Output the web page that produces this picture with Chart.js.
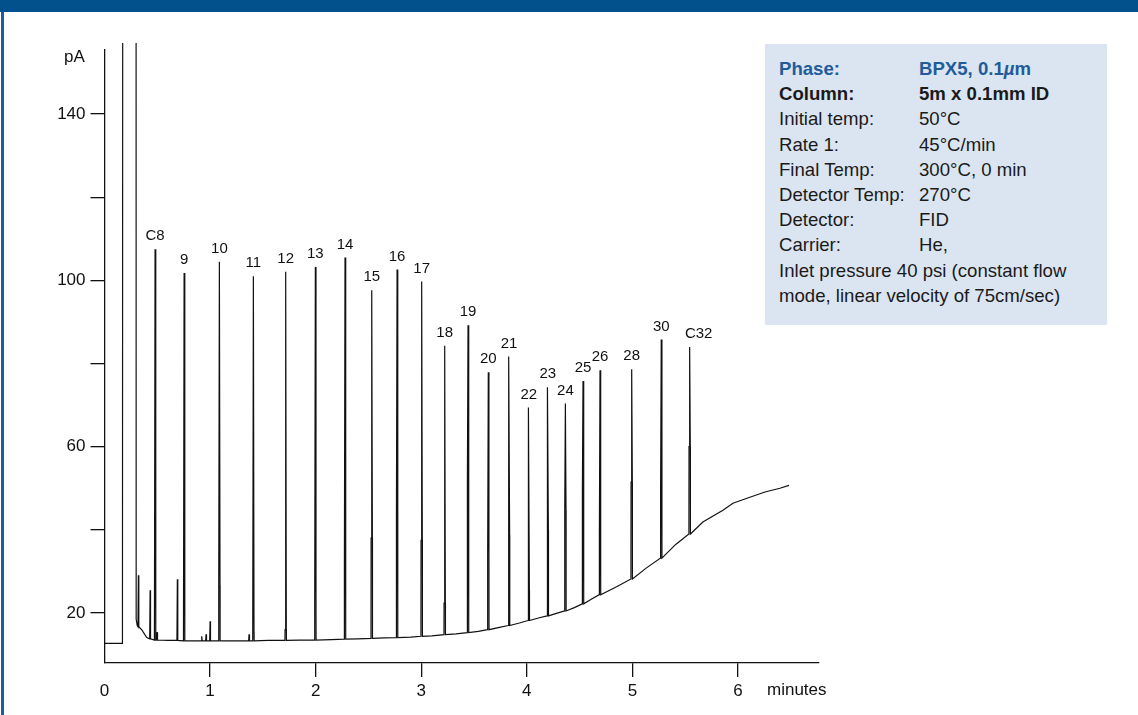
<!DOCTYPE html>
<html>
<head>
<meta charset="utf-8">
<script src="https://cdn.jsdelivr.net/npm/chart.js@4.4.0/dist/chart.umd.min.js"></script>
<style>
  html, body { margin: 0; padding: 0; background: #fff; }
  body { width: 1138px; height: 715px; position: relative; overflow: hidden; font-family: "Liberation Sans", Arial, sans-serif; }
  #topBar { position: absolute; left: 0; top: 0; width: 1138px; height: 12px; background: #02518c; }
  #leftBar { position: absolute; left: 1px; top: 12px; width: 3px; height: 703px; background: #1c5d9a; }
  #chartWrap { position: absolute; left: 0; top: 0; width: 1138px; height: 715px; }
  #infoBox { position: absolute; left: 765px; top: 44px; width: 342px; height: 281px; background: #dbe5f1;
             box-sizing: border-box; padding: 12px 0 0 14px; font-size: 18.6px; line-height: 25.2px; color: #1a1a1a; }
  .row { white-space: nowrap; }
  .row span { display: inline-block; width: 140px; }
  .blue { color: #1f5c99; font-weight: bold; }
  .bold { font-weight: bold; }
</style>
</head>
<body>
<div id="topBar"></div>
<div id="leftBar"></div>
<div id="chartWrap"><canvas id="gcChart" width="1138" height="715"></canvas></div>
<div id="infoBox">
  <div class="row blue"><span>Phase:</span>BPX5, 0.1<i>µ</i>m</div>
  <div class="row bold"><span>Column:</span>5m x 0.1mm ID</div>
  <div class="row"><span>Initial temp:</span>50°C</div>
  <div class="row"><span>Rate 1:</span>45°C/min</div>
  <div class="row"><span>Final Temp:</span>300°C, 0 min</div>
  <div class="row"><span>Detector Temp:</span>270°C</div>
  <div class="row"><span>Detector:</span>FID</div>
  <div class="row"><span>Carrier:</span>He,</div>
  <div class="row">Inlet pressure 40 psi (constant flow</div>
  <div class="row">mode, linear velocity of 75cm/sec)</div>
</div>

<script>
// Labelled peaks (retention time in minutes, apex and local baseline in pA)
const peakLabels = ['C8', '9', '10', '11', '12', '13', '14', '15', '16', '17', '18',
                    '19', '20', '21', '22', '23', '24', '25', '26', '28', '30', 'C32'];
const peakTimes = [0.479, 0.754, 1.088, 1.410, 1.716, 1.997, 2.278, 2.531, 2.771, 3.004, 3.222,
                   3.443, 3.635, 3.831, 4.018, 4.198, 4.365, 4.532, 4.693, 4.993, 5.273, 5.542];
const peakHeights = [107.5, 101.8, 104.5, 101.0, 102.1, 103.2, 105.5, 97.6, 102.6, 99.7, 84.3,
                     89.2, 77.9, 81.7, 69.4, 74.3, 70.4, 75.8, 78.4, 78.6, 85.8, 84.0];
const peakBases = [13.5, 13.3, 13.3, 13.3, 13.4, 13.5, 13.7, 13.9, 14.1, 14.4, 14.8,
                   15.3, 16.0, 17.0, 18.2, 19.3, 20.5, 22.2, 24.4, 28.2, 33.2, 39.0];
const peakShoulders = [15.5, 14.0, 26.7, 15.5, 16.0, 23.0, 30.0, 38.0, 44.0, 37.5, 22.4,
                       52.0, 33.9, 38.7, 25.5, 39.9, 44.7, 49.0, 38.7, 51.5, 50.0, 60.0];

// Small unlabelled spikes
const spikeTimes = [0.321, 0.432, 0.498, 0.690, 0.921, 0.962, 1.000, 1.369];
const spikeHeights = [29.1, 25.5, 15.4, 28.1, 14.4, 14.9, 18.0, 14.9];
const spikeBases = [16.7, 13.8, 13.5, 13.4, 13.3, 13.3, 13.3, 13.3];

// Solvent front (goes off scale)
const solventTimes = [0.174, 0.176, 0.298, 0.300];
const solventValues = [12.7, 400, 400, 18.5];

// Baseline / temperature-programme drift
const baseTimes = [0, 0.170, 0.310, 0.355, 0.400, 0.460, 0.600, 0.850, 1.200, 1.550, 1.850, 2.150,
                   2.400, 2.650, 2.900, 3.100, 3.330, 3.540, 3.730, 3.930, 4.110, 4.280, 4.450,
                   4.610, 4.850, 5.130, 5.410, 5.667, 5.857, 5.952, 6.085, 6.255, 6.397, 6.483];
const baseValues = [12.7, 12.7, 17.0, 15.9, 14.1, 13.6, 13.4, 13.3, 13.3, 13.4, 13.5, 13.6,
                    13.8, 14.0, 14.2, 14.5, 15.0, 15.6, 16.5, 17.6, 18.8, 19.9, 21.3,
                    23.3, 26.3, 30.8, 36.5, 41.9, 44.7, 46.4, 47.6, 49.1, 50.0, 50.7];

const xTicks = [0, 1, 2, 3, 4, 5, 6];
const yTickLabels = [20, 60, 100, 140];
const labelNudge = { C32: 9 };

function buildTrace() {
    const pts = [];
    baseTimes.forEach((t, i) => pts.push({ x: t, y: baseValues[i] }));
    solventTimes.forEach((t, i) => pts.push({ x: t, y: solventValues[i] }));
    peakTimes.forEach((t, i) => {
        const b = peakBases[i], s = peakShoulders[i];
        pts.push({ x: t - 0.007, y: b }, { x: t - 0.006, y: s }, { x: t, y: peakHeights[i] },
                 { x: t + 0.006, y: s }, { x: t + 0.007, y: b });
    });
    spikeTimes.forEach((t, i) => {
        pts.push({ x: t - 0.004, y: spikeBases[i] }, { x: t, y: spikeHeights[i] }, { x: t + 0.004, y: spikeBases[i] });
    });
    return pts.sort((a, b) => a.x - b.x);
}

// Peak numbers and axis titles
const textPlugin = {
    id: 'gcText',
    afterDatasetsDraw(chart) {
        const { ctx, chartArea, scales: { x, y } } = chart;
        ctx.save();
        ctx.fillStyle = '#111';
        ctx.textAlign = 'center';
        ctx.textBaseline = 'middle';
        ctx.font = '15px "Liberation Sans", Arial, sans-serif';
        peakLabels.forEach((lab, i) => {
            ctx.fillText(lab, x.getPixelForValue(peakTimes[i]) + (labelNudge[lab] || 0),
                         y.getPixelForValue(peakHeights[i]) - 13);
        });
        ctx.font = '17px "Liberation Sans", Arial, sans-serif';
        ctx.fillText('pA', chartArea.left - 30, chartArea.top + 7);
        ctx.textAlign = 'left';
        ctx.fillText('minutes', chartArea.right - 52, chartArea.bottom + 27);
        ctx.restore();
    }
};

document.addEventListener('DOMContentLoaded', () => {
    const ctx = document.getElementById('gcChart');
    new Chart(ctx, {
        type: 'line',
        data: {
            datasets: [{
                data: buildTrace(),
                borderColor: '#111',
                borderWidth: 1.2,
                pointRadius: 0,
                tension: 0,
                clip: { left: 0, top: 7, right: 0, bottom: 0 }
            }]
        },
        options: {
            responsive: false,
            animation: false,
            layout: { padding: { left: 0, top: 50, right: 319, bottom: 2 } },
            plugins: { legend: { display: false }, tooltip: { enabled: false } },
            scales: {
                x: {
                    type: 'linear',
                    min: 0,
                    max: 6.767,
                    afterFit: s => { s.height = 50; },
                    afterBuildTicks: s => { s.ticks = xTicks.map(v => ({ value: v })); },
                    ticks: { color: '#111', padding: 4, maxRotation: 0,
                             font: { family: '"Liberation Sans", Arial, sans-serif', size: 17 } },
                    grid: {
                        drawOnChartArea: false,
                        tickLength: 14,
                        lineWidth: 1.3,
                        color: c => (c.tick && c.tick.value === 0 ? 'rgba(0,0,0,0)' : '#111')
                    },
                    border: { display: true, color: '#111', width: 1.3 }
                },
                y: {
                    type: 'linear',
                    min: 7.98,
                    max: 155.4,
                    afterFit: s => { s.width = 104.5; },
                    ticks: {
                        stepSize: 20,
                        includeBounds: false,
                        color: '#111',
                        padding: 5,
                        font: { family: '"Liberation Sans", Arial, sans-serif', size: 17 },
                        callback: v => (yTickLabels.includes(v) ? v : '')
                    },
                    grid: { drawOnChartArea: false, tickLength: 14, lineWidth: 1.3, color: '#111' },
                    border: { display: true, color: '#111', width: 1.3 }
                }
            }
        },
        plugins: [textPlugin]
    });
});
</script>
</body>
</html>
